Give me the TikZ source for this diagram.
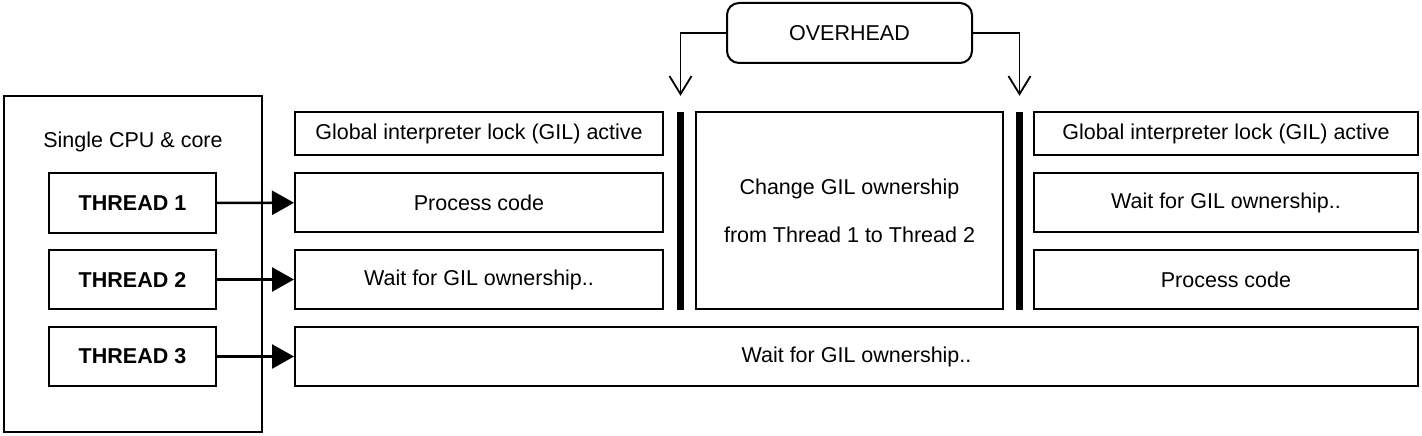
\documentclass[tikz,border=0pt]{standalone}
\usepackage{fontspec}
\setmainfont{Liberation Sans}
\usepackage{tikz}
\usetikzlibrary{arrows.meta}

\begin{document}
\begin{tikzpicture}[x=1pt,y=-1pt,
  font=\fontsize{21.5}{26}\selectfont,
  box/.style={draw,line width=2pt,inner sep=0pt,minimum height=59pt},
  bar/.style={fill=black,inner sep=0pt,minimum width=7pt,minimum height=198pt},
  feed/.style={line width=2.6pt,-{Triangle[length=22pt,width=24pt]}},
  over/.style={line width=1.8pt,-{Straight Barb[length=18pt,width=22pt,line width=1.8pt]},shorten >=16pt}]
\useasboundingbox (0,0) rectangle (1422,436);

\node[box,minimum width=258pt,minimum height=336pt] (cpu) at (133,264) {};
\node (cpulbl) at (133,142) {Single CPU \& core};
\node[box,minimum width=167pt,minimum height=60pt,font=\fontsize{21.5}{26}\selectfont\bfseries] (t1) at (132.5,203) {THREAD 1};
\node[box,minimum width=167pt,font=\fontsize{21.5}{26}\selectfont\bfseries] (t2) at (132.5,279.5) {THREAD 2};
\node[box,minimum width=167pt,font=\fontsize{21.5}{26}\selectfont\bfseries] (t3) at (132.5,356.5) {THREAD 3};

\node[box,minimum width=368pt,minimum height=43pt] (gilA) at (479,133.5) {Global interpreter lock (GIL) active};
\node[box,minimum width=368pt] (procA) at (479,202.5) {Process code};
\node[box,minimum width=368pt] (waitA) at (479,279.5) {Wait for GIL ownership..};
\node[box,minimum width=1123pt] (waitC) at (856.5,356.5) {Wait for GIL ownership..};

\node[bar] (barL) at (680.5,211) {};
\node[box,minimum width=307pt,minimum height=197pt,align=center,font=\fontsize{21.5}{48}\selectfont] (change) at (849.5,210.5) {Change GIL ownership\\from Thread 1 to Thread 2};
\node[bar] (barR) at (1019.5,211) {};

\node[box,minimum width=384pt,minimum height=43pt] (gilB) at (1226,133.5) {Global interpreter lock (GIL) active};
\node[box,minimum width=384pt] (waitB) at (1226,202.5) {Wait for GIL ownership..};
\node[box,minimum width=384pt] (procB) at (1226,279.5) {Process code};

\node[box,rounded corners=12pt,minimum width=245pt,minimum height=60pt] (ovh) at (849.5,33) {OVERHEAD};

\draw[feed] (t1) -- (procA);
\draw[feed] (t2) -- (waitA);
\draw[feed] (t3.east) -- (t3.east -| waitC.west);
\draw[over] (ovh.west) -| (barL.north);
\draw[over] (ovh.east) -| (barR.north);

\end{tikzpicture}
\end{document}
